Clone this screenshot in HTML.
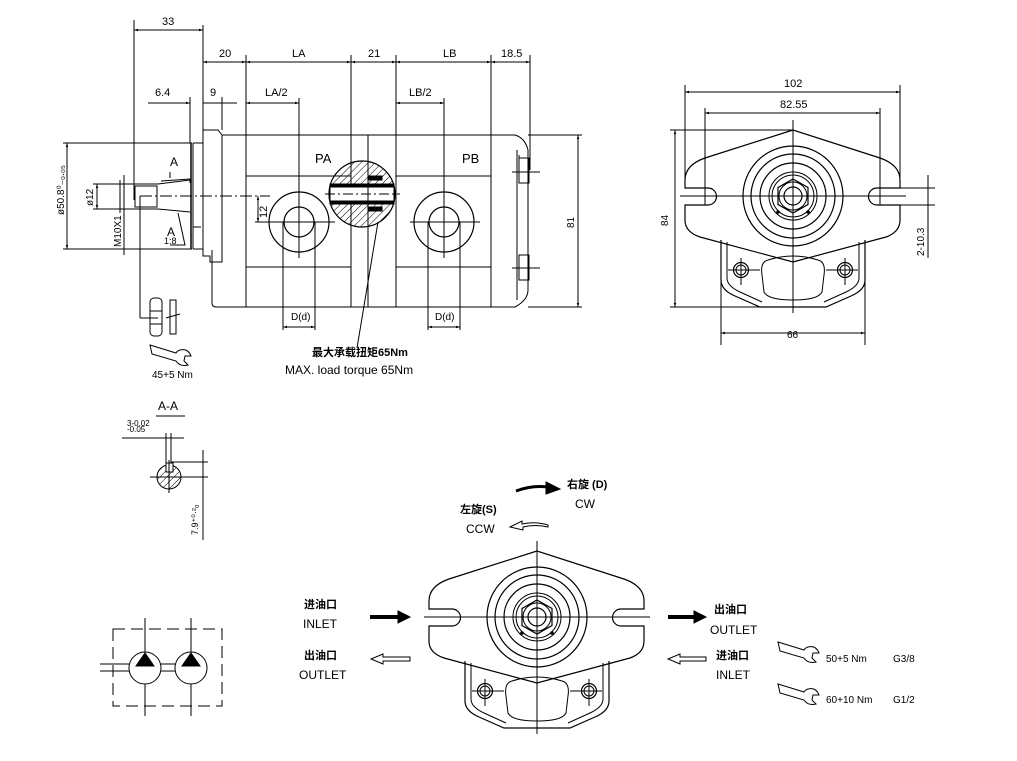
<!DOCTYPE html>
<html><head><meta charset="utf-8"><style>
html,body{margin:0;padding:0;background:#fff}
svg{display:block}
text{font-family:"Liberation Sans","Noto Sans CJK SC",sans-serif;fill:#000}
.n{font-family:"Liberation Sans Narrow","Liberation Sans","Noto Sans CJK SC",sans-serif}
</style></head><body>
<svg width="1017" height="761" viewBox="0 0 1017 761" xmlns="http://www.w3.org/2000/svg">
<defs>
<marker id="a" viewBox="0 0 10 10" refX="10" refY="5" markerWidth="6" markerHeight="4" orient="auto-start-reverse"><path d="M0,2 L10,5 L0,8 Z" fill="#000"/></marker>
<pattern id="h" width="5" height="5" patternUnits="userSpaceOnUse" patternTransform="rotate(45)"><line x1="0" y1="0" x2="0" y2="5" stroke="#000" stroke-width="1"/></pattern>
<g id="wr">
<path d="M0,0 L2,9 L26,16 Q30,22 38,20 L34,16 L35,11 L41,11 Q38,3 30,5 Q27,6 26,8 Z" fill="none" stroke="#000" stroke-width="1"/>
</g>
<g id="pv">
<path d="M793,130 L705,158 Q685,165 685,180 L685,188 L708,188 A8.5,8.5 0 0 1 708,205 L685,205 L685,220 Q685,232 700,237 L793,262 L886,237 Q900,232 900,220 L900,205 L877,205 A8.5,8.5 0 0 1 877,188 L900,188 L900,180 Q900,165 880,158 Z" fill="none" stroke="#000" stroke-width="1.2"/>
<path d="M721,240 L721,280 Q721,290 735,296 L760,307 L826,307 L851,296 Q865,290 865,280 L865,240" fill="none" stroke="#000" stroke-width="1.2"/>
<path d="M727,242 L727,278 Q727,286 740,292 L762,302" fill="none" stroke="#000"/>
<path d="M859,242 L859,278 Q859,286 846,292 L824,302" fill="none" stroke="#000"/>
<path d="M768,260 Q793,252 818,260 Q826,262 824,275 L822,292 Q818,300 793,300 Q768,300 764,292 L762,275 Q760,262 768,260 Z" fill="none" stroke="#000"/>
<circle cx="741" cy="270" r="7.5" fill="none" stroke="#000" stroke-width="1.2"/><circle cx="741" cy="270" r="5" fill="none" stroke="#000"/>
<circle cx="845" cy="270" r="7.5" fill="none" stroke="#000" stroke-width="1.2"/><circle cx="845" cy="270" r="5" fill="none" stroke="#000"/>
<line x1="728" y1="270" x2="760" y2="270" stroke="#000"/><line x1="826" y1="270" x2="858" y2="270" stroke="#000"/>
<line x1="741" y1="258" x2="741" y2="285" stroke="#000"/><line x1="845" y1="258" x2="845" y2="285" stroke="#000"/>
<circle cx="793" cy="196" r="50" fill="none" stroke="#000" stroke-width="1.2"/>
<circle cx="793" cy="196" r="42" fill="none" stroke="#000" stroke-width="1.2"/>
<circle cx="793" cy="196" r="33" fill="none" stroke="#000" stroke-width="1.2"/>
<circle cx="793" cy="196" r="24" fill="none" stroke="#000"/>
<circle cx="793" cy="196" r="21" fill="none" stroke="#000"/>
<polygon points="793,179 808,187.5 808,204.5 793,213 778,204.5 778,187.5" fill="none" stroke="#000" stroke-width="1.2"/>
<circle cx="793" cy="196" r="14" fill="none" stroke="#000"/>
<circle cx="793" cy="196" r="9" fill="none" stroke="#000" stroke-width="1.2"/>
<circle cx="778" cy="212" r="1.8" fill="#000"/><circle cx="808" cy="212" r="1.8" fill="#000"/>
<line x1="680" y1="196" x2="906" y2="196" stroke="#000"/>
<line x1="793" y1="120" x2="793" y2="313" stroke="#000"/>
</g>
</defs>

<g stroke="#000" fill="none" stroke-width="1">
<line x1="63" y1="143" x2="192" y2="143"/><line x1="63" y1="249" x2="192" y2="249"/>
<line x1="191" y1="143" x2="191" y2="249" stroke-width="1.5"/><line x1="193" y1="143" x2="193" y2="249"/>
<line x1="193" y1="143" x2="203" y2="143"/><line x1="193" y1="249" x2="203" y2="249"/>
<line x1="193" y1="227" x2="201" y2="227"/>
<path d="M120,184 L158,184 L190,180 M120,209 L158,209 L190,212"/>
<rect x="135" y="186" width="22" height="21"/>
<line x1="120" y1="180" x2="120" y2="213"/>
<path d="M161,181 L190,179 L190,183"/>
<line x1="140" y1="196" x2="270" y2="196" stroke-dasharray="12,3,2,3"/>
<line x1="140" y1="196" x2="140" y2="318"/><line x1="140" y1="318" x2="158" y2="318"/>
<path d="M203,130 L218,130 L222,135 L222,262 L210,262 L210,256 L203,256 Z"/>
<path d="M212,250 L212,303 Q212,307 216,307 L515,307 Q528,300 528,290 L528,150 Q525,138 515,135 L222,135"/>
<line x1="246" y1="135" x2="246" y2="307"/>
<line x1="351" y1="135" x2="351" y2="307"/>
<line x1="368" y1="135" x2="368" y2="307"/>
<line x1="396" y1="135" x2="396" y2="307"/>
<line x1="491" y1="135" x2="491" y2="307"/>
<line x1="246" y1="176" x2="351" y2="176"/><line x1="246" y1="267" x2="351" y2="267"/>
<line x1="396" y1="176" x2="491" y2="176"/><line x1="396" y1="267" x2="491" y2="267"/>
<path d="M517,150 L517,300 M519,155 L519,175 M519,255 L519,275"/>
<rect x="519" y="158" width="10" height="25"/><rect x="519" y="255" width="10" height="25"/>
<line x1="512" y1="172" x2="540" y2="172"/><line x1="512" y1="268" x2="540" y2="268"/>
<circle cx="299" cy="222" r="30" stroke-width="1.2"/><circle cx="299" cy="222" r="15" stroke-width="1.2"/>
<circle cx="444" cy="222" r="30" stroke-width="1.2"/><circle cx="444" cy="222" r="15" stroke-width="1.2"/>
<line x1="265" y1="222" x2="335" y2="222"/><line x1="410" y1="222" x2="480" y2="222"/>
<line x1="299" y1="98" x2="299" y2="258"/><line x1="444" y1="98" x2="444" y2="258"/>
<line x1="283" y1="222" x2="283" y2="330"/><line x1="315" y1="222" x2="315" y2="330"/>
<line x1="428" y1="222" x2="428" y2="330"/><line x1="460" y1="222" x2="460" y2="330"/>
<line x1="283" y1="327" x2="315" y2="327" marker-start="url(#a)" marker-end="url(#a)"/>
<line x1="428" y1="327" x2="460" y2="327" marker-start="url(#a)" marker-end="url(#a)"/>
<circle cx="362" cy="194" r="33" fill="url(#h)" stroke-width="1.2"/>
<rect x="330" y="184" width="64" height="3" fill="#000"/>
<rect x="330" y="201" width="64" height="3" fill="#000"/>
<rect x="330" y="187" width="64" height="14" fill="#fff" stroke="#000"/>
<rect x="368" y="176" width="14" height="4" fill="#000"/><rect x="368" y="207" width="14" height="4" fill="#000"/>
<line x1="368" y1="161" x2="368" y2="227"/>
<line x1="325" y1="194" x2="400" y2="194" stroke-dasharray="10,3,2,3"/>
<line x1="378" y1="222" x2="357" y2="348"/>
<line x1="134" y1="20" x2="134" y2="200"/><line x1="203" y1="25" x2="203" y2="130"/>
<line x1="134" y1="30" x2="203" y2="30" marker-start="url(#a)" marker-end="url(#a)"/>
<line x1="246" y1="55" x2="246" y2="135"/><line x1="351" y1="55" x2="351" y2="135"/><line x1="396" y1="55" x2="396" y2="135"/><line x1="491" y1="55" x2="491" y2="135"/><line x1="530" y1="55" x2="530" y2="170"/>
<line x1="203" y1="62" x2="246" y2="62" marker-start="url(#a)" marker-end="url(#a)"/>
<line x1="246" y1="62" x2="351" y2="62" marker-start="url(#a)" marker-end="url(#a)"/>
<line x1="351" y1="62" x2="396" y2="62" marker-start="url(#a)" marker-end="url(#a)"/>
<line x1="396" y1="62" x2="491" y2="62" marker-start="url(#a)" marker-end="url(#a)"/>
<line x1="491" y1="62" x2="530" y2="62" marker-start="url(#a)" marker-end="url(#a)"/>
<line x1="190" y1="97" x2="190" y2="143"/><line x1="222" y1="97" x2="222" y2="130"/>
<line x1="148" y1="103" x2="190" y2="103" marker-end="url(#a)"/>
<line x1="203" y1="103" x2="237" y2="103"/>
<line x1="246" y1="103" x2="299" y2="103" marker-start="url(#a)" marker-end="url(#a)"/>
<line x1="396" y1="103" x2="444" y2="103" marker-start="url(#a)" marker-end="url(#a)"/>
<line x1="67" y1="143" x2="67" y2="249" marker-start="url(#a)" marker-end="url(#a)"/>
<line x1="97" y1="184" x2="97" y2="209" marker-start="url(#a)" marker-end="url(#a)"/>
<line x1="93" y1="184" x2="120" y2="184"/><line x1="93" y1="209" x2="120" y2="209"/>
<line x1="124" y1="175" x2="124" y2="255"/>
<path d="M178,213 L185,245 L170,245"/>
<line x1="170" y1="178" x2="170" y2="172"/>
<line x1="258" y1="196" x2="258" y2="222" marker-start="url(#a)" marker-end="url(#a)"/>
<line x1="255" y1="222" x2="268" y2="222"/>
<line x1="528" y1="135" x2="582" y2="135"/><line x1="528" y1="307" x2="582" y2="307"/>
<line x1="578" y1="135" x2="578" y2="307" marker-start="url(#a)" marker-end="url(#a)"/>
<rect x="150" y="298" width="12" height="38" rx="4"/><line x1="150" y1="311" x2="162" y2="311"/><line x1="150" y1="324" x2="162" y2="324"/>
<rect x="170" y="300" width="6" height="34"/><line x1="166" y1="318" x2="180" y2="314"/>
<line x1="156" y1="416" x2="185" y2="416"/>
<line x1="122" y1="438" x2="184" y2="438"/>
<line x1="166" y1="433" x2="166" y2="470"/><line x1="171" y1="433" x2="171" y2="470"/>
<circle cx="169" cy="477" r="12" fill="url(#h)"/>
<rect x="166" y="463" width="7" height="9" fill="#fff" stroke="#000"/>
<line x1="150" y1="477" x2="208" y2="477"/><line x1="169" y1="460" x2="169" y2="493"/>
<line x1="171" y1="462" x2="208" y2="462"/>
<line x1="203" y1="450" x2="203" y2="540"/>
<rect x="113" y="629" width="109" height="77" stroke-dasharray="12,6"/>
<circle cx="145" cy="668" r="16" fill="#fff"/><circle cx="191" cy="668" r="16" fill="#fff"/>
<polygon points="145,653 154,666 136,666" fill="#000"/><polygon points="191,653 200,666 182,666" fill="#000"/>
<line x1="145" y1="618" x2="145" y2="652"/><line x1="145" y1="684" x2="145" y2="716"/>
<line x1="191" y1="618" x2="191" y2="652"/><line x1="191" y1="684" x2="191" y2="716"/>
<line x1="100" y1="664" x2="129" y2="664"/><line x1="100" y1="671" x2="129" y2="671"/>
<line x1="161" y1="664" x2="175" y2="664"/><line x1="161" y1="671" x2="175" y2="671"/>
<line x1="685" y1="85" x2="685" y2="188"/><line x1="900" y1="85" x2="900" y2="188"/>
<line x1="685" y1="92" x2="900" y2="92" marker-start="url(#a)" marker-end="url(#a)"/>
<line x1="705" y1="108" x2="705" y2="205"/><line x1="880" y1="108" x2="880" y2="205"/>
<line x1="705" y1="113" x2="880" y2="113" marker-start="url(#a)" marker-end="url(#a)"/>
<line x1="670" y1="130" x2="793" y2="130"/><line x1="670" y1="307" x2="760" y2="307"/>
<line x1="675" y1="130" x2="675" y2="307" marker-start="url(#a)" marker-end="url(#a)"/>
<line x1="721" y1="240" x2="721" y2="345"/><line x1="865" y1="240" x2="865" y2="345"/>
<line x1="721" y1="333" x2="865" y2="333" marker-start="url(#a)" marker-end="url(#a)"/>
<line x1="900" y1="188" x2="935" y2="188"/><line x1="900" y1="205" x2="935" y2="205"/>
<line x1="928" y1="175" x2="928" y2="258"/>
</g>
<use href="#pv"/>
<use href="#pv" transform="translate(-256,421)"/>
<use href="#wr" transform="translate(150,345)"/>
<use href="#wr" transform="translate(778,642)"/>
<use href="#wr" transform="translate(778,684)"/>

<g stroke="#000">
<path d="M370,617 L400,617" stroke-width="4"/><path d="M398,611 L410,617 L398,623 Z" fill="#000"/>
<path d="M668,617 L696,617" stroke-width="4"/><path d="M694,611 L706,617 L694,623 Z" fill="#000"/>
<path d="M383,657 L410,657 L410,661 L383,661 L383,664 L371,659 L383,654 Z" fill="#fff"/>
<path d="M680,657 L706,657 L706,661 L680,661 L680,664 L668,659 L680,654 Z" fill="#fff"/>
<path d="M516,491 Q532,485 548,487" fill="none" stroke-width="3"/><path d="M546,482 L560,489 L546,494 Z" fill="#000"/>
<path d="M548,525 Q535,521 522,524 L522,521 L510,527 L523,530 L523,527 Q535,524 548,527 Z" fill="#fff"/>
</g>

<g font-size="11" class="n">
<text x="162" y="25">33</text>
<text x="219" y="57">20</text>
<text x="292" y="57">LA</text>
<text x="368" y="57">21</text>
<text x="443" y="57">LB</text>
<text x="501" y="57">18.5</text>
<text x="155" y="96">6.4</text>
<text x="210" y="96">9</text>
<text x="265" y="96">LA/2</text>
<text x="409" y="96">LB/2</text>
<text x="315" y="163" font-size="13">PA</text>
<text x="462" y="163" font-size="13">PB</text>
<text x="170" y="166" font-size="12">A</text>
<text x="167" y="236" font-size="12">A</text>
<text x="164" y="244" font-size="9">1:8</text>
<text x="291" y="320" font-size="10">D(d)</text>
<text x="435" y="320" font-size="10">D(d)</text>
<text x="0" y="0" transform="translate(267,218) rotate(-90)">12</text>
<text x="0" y="0" transform="translate(574,228) rotate(-90)" font-size="10">81</text>
<text x="0" y="0" transform="translate(93,206) rotate(-90)" font-size="10">ø12</text>
<text x="0" y="0" transform="translate(64,215) rotate(-90)" font-size="10">ø50.8⁰₋₀.₀₅</text>
<text x="0" y="0" transform="translate(121,247) rotate(-90)" font-size="10">M10X1</text>
<text x="312" y="356" font-size="11" font-weight="bold">最大承载扭矩65Nm</text>
<text x="285" y="374" font-size="12">MAX. load torque 65Nm</text>
<text x="152" y="378" font-size="10">45+5 Nm</text>
<text x="158" y="410" font-size="12">A-A</text>
<text x="127" y="426" font-size="8">3-0.02</text>
<text x="127" y="432" font-size="8">-0.05</text>
<text x="0" y="0" transform="translate(198,535) rotate(-90)" font-size="9">7.9⁺⁰·²₀</text>
<text x="784" y="87">102</text>
<text x="780" y="108">82.55</text>
<text x="0" y="0" transform="translate(668,226) rotate(-90)" font-size="10">84</text>
<text x="787" y="338" font-size="10">66</text>
<text x="0" y="0" transform="translate(924,256) rotate(-90)" font-size="10">2-10.3</text>
<text x="567" y="488" font-weight="bold">右旋 (D)</text>
<text x="575" y="508" font-size="12">CW</text>
<text x="460" y="513" font-weight="bold">左旋(S)</text>
<text x="466" y="533" font-size="12">CCW</text>
<text x="304" y="608" font-weight="bold">进油口</text>
<text x="303" y="628" font-size="12">INLET</text>
<text x="304" y="659" font-weight="bold">出油口</text>
<text x="299" y="679" font-size="12">OUTLET</text>
<text x="714" y="613" font-weight="bold">出油口</text>
<text x="710" y="634" font-size="12">OUTLET</text>
<text x="716" y="659" font-weight="bold">进油口</text>
<text x="716" y="679" font-size="12">INLET</text>
<text x="826" y="662" font-size="10">50+5 Nm</text>
<text x="893" y="662" font-size="10">G3/8</text>
<text x="826" y="703" font-size="10">60+10 Nm</text>
<text x="893" y="703" font-size="10">G1/2</text>
</g>
</svg>
</body></html>
